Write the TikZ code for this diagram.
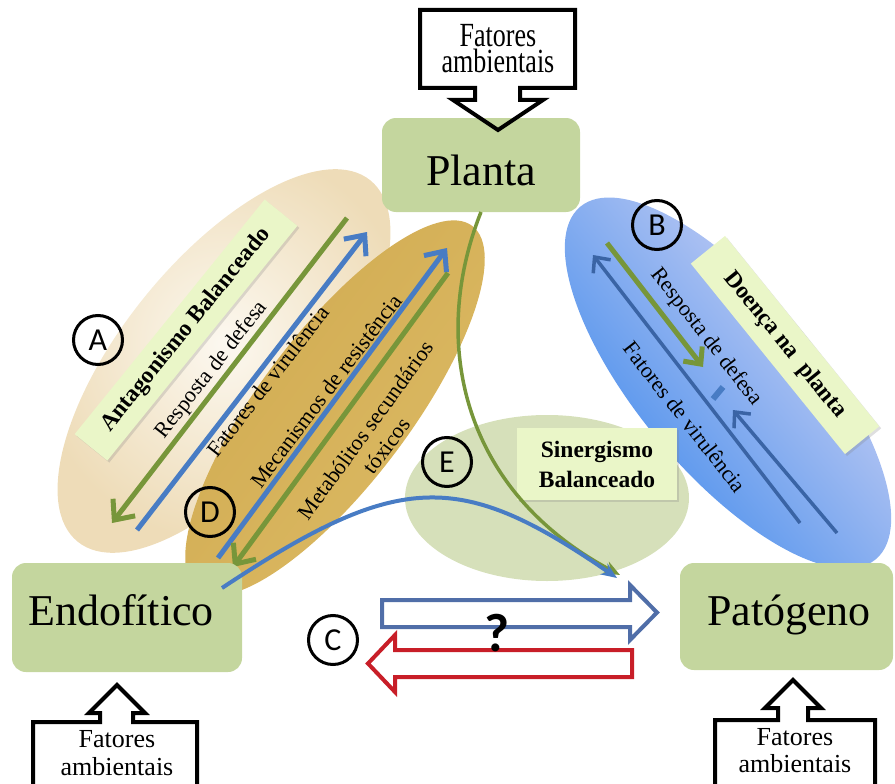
\documentclass[tikz,border=0pt]{standalone}
\usepackage{fontspec}
\setmainfont{Liberation Serif}
\newfontfamily\calib{Carlito}
\usetikzlibrary{shapes.geometric,arrows.meta,shadows}
\definecolor{boxgreen}{RGB}{196,214,158}
\definecolor{lblgreen}{RGB}{234,246,200}
\definecolor{lgreen}{RGB}{119,150,58}
\definecolor{lblue}{RGB}{72,124,196}
\definecolor{bblue}{RGB}{58,100,165}
\definecolor{cblue}{RGB}{80,110,168}
\definecolor{cred}{RGB}{200,30,40}
\definecolor{beigein}{RGB}{252,248,240}
\definecolor{beigeout}{RGB}{238,220,184}
\definecolor{goldtop}{RGB}{208,170,80}
\definecolor{goldmid}{RGB}{238,215,145}
\definecolor{goldbot}{RGB}{220,186,100}
\definecolor{bluetop}{RGB}{222,218,245}
\definecolor{bluemid}{RGB}{130,175,240}
\definecolor{bluebot}{RGB}{52,132,235}
\definecolor{egreen}{RGB}{214,224,186}
\begin{document}
\begin{tikzpicture}[x=1pt,y=-1pt,
  every node/.style={inner sep=0pt,outer sep=0pt},
  mainbox/.style={rounded corners=14pt,fill=boxgreen},
  bigtext/.style={font=\fontsize{44}{48}\selectfont},
  envtext/.style={font=\fontsize{26}{26}\selectfont},
  lbltext/.style={font=\fontsize{22}{26}\selectfont},
  lblbox/.style={fill=lblgreen,font=\bfseries\fontsize{23.5}{30}\selectfont,
    drop shadow={opacity=0.25,shadow xshift=2pt,shadow yshift=-2pt}},
  callout/.style={draw=black,line width=4pt,line join=miter},
  circ/.style={circle,draw=black,line width=3pt,minimum size=49pt,
    font=\calib\fontsize{32}{32}\selectfont},
  garrow/.style={draw=lgreen,line width=5pt,-{Straight Barb[length=16pt,width=28pt]}},
  barrow/.style={draw=lblue,line width=5pt,-{Straight Barb[length=16pt,width=28pt]}},
  bbarrow/.style={draw=bblue,line width=3.5pt,-{Straight Barb[length=12pt,width=22pt]}},
  gbarrow/.style={draw=lgreen,line width=5pt,-{Straight Barb[length=13pt,width=24pt]}},
]
\useasboundingbox (0,0) rectangle (895,784);

% background ellipses
\node[ellipse,minimum width=465pt,minimum height=204pt,rotate=51,
  inner color=beigein,outer color=beigeout] (ellA) at (224,361) {};
\node[ellipse,minimum width=456pt,minimum height=150pt,rotate=53,
  top color=goldtop,middle color=goldmid,bottom color=goldbot,shading angle=53] (ellD) at (335,408) {};
\node[ellipse,minimum width=460pt,minimum height=180pt,rotate=-50,
  top color=bluetop,middle color=bluemid,bottom color=bluebot,shading angle=-50] (ellB) at (728,383) {};
\node[ellipse,minimum width=284pt,minimum height=166pt,fill=egreen] (ellE) at (547,498) {};

% label boxes
\node[lblbox,rotate=51,minimum width=302pt,minimum height=42pt] (antag) at (186,330) {Antagonismo Balanceado};
\node[lblbox,rotate=-51,minimum width=245pt,minimum height=44pt] (doenca) at (785,345) {Doença na\ \ planta};
\node[lblbox,minimum width=160pt,minimum height=72pt,align=center] (siner) at (597,464) {Sinergismo\\Balanceado};

% arrow end points
\coordinate (ag1) at (347,218); \coordinate (ag2) at (112,523);
\coordinate (ab1) at (137,530); \coordinate (ab2) at (367,232);
\coordinate (db1) at (218,558); \coordinate (db2) at (447,248);
\coordinate (dg1) at (448,273); \coordinate (dg2) at (233,567);
\coordinate (bg1) at (607,243); \coordinate (bg2) at (703,367);
\coordinate (bb1) at (800,523); \coordinate (bb2) at (593,255);
\coordinate (bc1) at (837,533); \coordinate (bc2) at (733,410);
\coordinate (bar1) at (713,399); \coordinate (bar2) at (723,387);

\draw[garrow] (ag1) -- (ag2);
\draw[barrow] (ab1) -- (ab2);
\draw[barrow] (db1) -- (db2);
\draw[garrow] (dg1) -- (dg2);
\draw[gbarrow] (bg1) -- (bg2);
\draw[bbarrow] (bb1) -- (bb2);
\draw[bbarrow] (bc1) -- (bc2);
\draw[draw=lblue,line width=6pt] (bar1) -- (bar2);

% rotated texts
\node[lbltext,rotate=52] (tA1) at (212,370) {Resposta de defesa};
\node[lbltext,rotate=52] (tA2) at (268,381) {Fatores de virulência};
\node[lbltext,rotate=53] (tD1) at (326,391) {Mecanismos de resistência};
\node[lbltext,rotate=54,align=center] (tD2) at (376,438) {Metabólitos secundários\\tóxicos};
\node[lbltext,rotate=-52] (tB1) at (706,337) {Resposta de defesa};
\node[lbltext,rotate=-52] (tB2) at (685,417) {Fatores de virulência};

% main boxes
\node[mainbox,minimum width=198pt,minimum height=94pt] (planta) at (481,165) {};
\node[bigtext,anchor=base] (plantaT) at (481,185) {Planta};
\node[mainbox,minimum width=230pt,minimum height=109pt] (endo) at (127,617.5) {};
\node[bigtext,anchor=base] (endoT) at (121,625) {Endofítico};
\node[mainbox,minimum width=213pt,minimum height=107pt] (pato) at (786.5,616.5) {};
\node[bigtext,anchor=base] (patoT) at (789,625) {Patógeno};

% curves
\coordinate (gtip) at (620,575);
\coordinate (bstart) at (222,588);
\coordinate (btip) at (617,578);
\draw[lgreen,line width=3.5pt,-{Stealth[length=16pt,width=13pt]}]
  (planta.south) .. controls (430,340) and (460,490) .. (gtip);
\draw[lblue,line width=4pt,-{Stealth[length=16pt,width=13pt]}]
  (bstart) .. controls (400,470) and (460,470) .. (btip);

% C arrows
\draw[draw=cblue,line width=4pt,line join=miter]
  (382,600) -- (630,600) -- (630,585) -- (657,612.5) -- (630,640) -- (630,627) -- (382,627) -- cycle;
\draw[draw=cred,line width=4pt,line join=miter]
  (632,650) -- (395,650) -- (395,635) -- (368,663.5) -- (395,692) -- (395,677) -- (632,677) -- cycle;
\node[font=\calib\bfseries\fontsize{54}{54}\selectfont] (q) at (497,633) {?};

% callouts
\draw[callout] (420,10) -- (575,10) -- (575,88) -- (520,88) -- (520,100) -- (543,100)
  -- (498,130) -- (453,100) -- (475,100) -- (475,88) -- (420,88) -- cycle;
\node[envtext,anchor=base] (envT1) at (498,47) {\scalebox{1}[1.3]{Fatores}};
\node[envtext,anchor=base] (envT2) at (498,73) {\scalebox{1}[1.3]{ambientais}};
\draw[callout] (33,795) -- (33,722) -- (100,722) -- (100,713) -- (89,713) -- (117,685)
  -- (145,713) -- (133,713) -- (133,722) -- (197,722) -- (197,795);
\node[envtext,anchor=base] (envL1) at (117,747) {Fatores};
\node[envtext,anchor=base] (envL2) at (117,775) {ambientais};
\draw[callout] (715,795) -- (715,720) -- (778,720) -- (778,708) -- (765,708) -- (793,680)
  -- (821,708) -- (808,708) -- (808,720) -- (875,720) -- (875,795);
\node[envtext,anchor=base] (envR1) at (795,745) {Fatores};
\node[envtext,anchor=base] (envR2) at (795,772) {ambientais};

% circle labels
\node[circ] (cA) at (98,340) {A};
\node[circ] (cB) at (657,225) {B};
\node[circ] (cC) at (333,640) {C};
\node[circ] (cD) at (210,512) {D};
\node[circ] (cE) at (447,462) {E};
\end{tikzpicture}
\end{document}
